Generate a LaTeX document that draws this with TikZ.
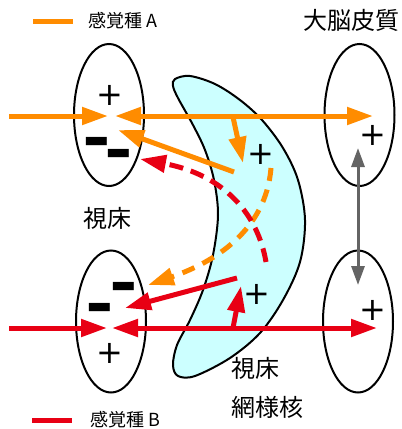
\documentclass[tikz,border=0pt]{standalone}
\usepackage{fontspec}
\newfontfamily\jp{Noto Sans CJK JP}
\newfontfamily\dv{DejaVu Sans}
\usetikzlibrary{arrows.meta,shapes.geometric}
\definecolor{orA}{RGB}{255,140,0}
\definecolor{redB}{RGB}{232,0,20}
\definecolor{cyanF}{RGB}{204,255,255}
\definecolor{grayG}{RGB}{100,100,100}
\tikzset{
  bigtip/.tip={Triangle[length=26pt,width=17pt]},
  graytip/.tip={Triangle[length=19pt,width=13pt]},
  thal/.style={draw, ellipse, line width=2pt, minimum width=70pt, minimum height=142pt, inner sep=0pt},
  oline/.style={draw=orA, line width=5pt},
  rline/.style={draw=redB, line width=5pt},
  odash/.style={oline, dash pattern=on 13pt off 9pt},
  rdash/.style={rline, dash pattern=on 14pt off 8pt},
  plussign/.style={font=\dv\fontsize{32}{32}\selectfont, inner sep=0pt},
  minussign/.style={font=\dv\bfseries\fontsize{41}{41}\selectfont, inner sep=0pt, anchor=base},
  jplabel/.style={font=\jp\fontsize{24}{24}\selectfont, inner sep=0pt},
  legend/.style={font=\jp\fontsize{18}{18}\selectfont, inner sep=0pt, anchor=west},
}
\newcommand{\mns}{\scalebox{1.3}[1.6]{\kern-2.5pt–\kern-2.5pt}}
\begin{document}
\begin{tikzpicture}[x=1pt,y=-1pt]
\useasboundingbox (0,0) rectangle (402,429);
% crescent (thalamic reticular nucleus)
\draw[fill=cyanF, line width=2pt] plot[smooth cycle, tension=0.55] coordinates {
 (175,79) (190,76) (215,84) (240,100) (262,120) (283,148) (298,180) (305,220)
 (300,262) (283,300) (260,333) (230,358) (195,376) (178,376)
 (173,365) (177,345) (190,320) (203,290) (213,255) (218,215) (214,180)
 (205,150) (193,125) (178,98) (173,86)};
% ellipses
\node[thal] (tl) at (109,115) {};
\node[thal] (bl) at (111,321.5) {};
\node[thal] (tr) at (359.5,115) {};
\node[thal] (br) at (358,321.5) {};
% coordinates
\coordinate (oin) at (9,116);
\coordinate (otip) at (108,116);
\coordinate (oL) at (115,116);
\coordinate (oR) at (373,116);
\coordinate (odS) at (233,117);
\coordinate (odE) at (243,163);
\coordinate (ofS) at (234,172);
\coordinate (ofE) at (118,130);
\coordinate (odashS) at (271,168);
\coordinate (odashE) at (148,285);
\coordinate (rdashS) at (266,262);
\coordinate (rdashE) at (140,159);
\coordinate (rin) at (9,328);
\coordinate (rtip) at (107,328);
\coordinate (rL) at (112,328);
\coordinate (rR) at (377,328);
\coordinate (ruS) at (233,328);
\coordinate (ruE) at (241,286);
\coordinate (rfS) at (237,278);
\coordinate (rfE) at (125,308);
\coordinate (gT) at (358,148);
\coordinate (gB) at (358,285);
\coordinate (lgoA) at (33,21);
\coordinate (lgoB) at (73,21);
\coordinate (lgrA) at (32,420);
\coordinate (lgrB) at (72,420);
% gray
\draw[grayG, line width=3pt, graytip-graytip] (gT) -- (gB);
% orange
\draw[oline] (lgoA) -- (lgoB);
\draw[oline, -bigtip] (oin) -- (otip);
\draw[oline, bigtip-bigtip] (oL) -- (oR);
\draw[oline, -bigtip] (odS) -- (odE);
\draw[oline, -bigtip] (ofS) -- (ofE);
\draw[odash, -bigtip] (odashS) .. controls (266,230) and (215,262) .. (odashE);
% red
\draw[rdash, -bigtip] (rdashS) .. controls (258,215) and (225,175) .. (rdashE);
\draw[rline] (lgrA) -- (lgrB);
\draw[rline, -bigtip] (rin) -- (rtip);
\draw[rline, bigtip-bigtip] (rL) -- (rR);
\draw[rline, -bigtip] (ruS) -- (ruE);
\draw[rline, -bigtip] (rfS) -- (rfE);
% signs
\node[plussign] (p1) at (110,95) {+};
\node[plussign] (p2) at (373,135) {+};
\node[plussign] (p3) at (373,310) {+};
\node[plussign] (p4) at (110,353) {+};
\node[plussign] (p5) at (261,154) {+};
\node[plussign] (p6) at (257,294) {+};
\node[minussign] (m1) at (97,159) {\mns};
\node[minussign] (m2) at (118.5,171) {\mns};
\node[minussign] (m3) at (123.5,304) {\mns};
\node[minussign] (m4) at (100,325) {\mns};
% labels
\node[legend] (la) at (88,21) {感覚種 A};
\node[legend] (lb) at (90,420) {感覚種 B};
\node[jplabel] (ctx) at (351,20) {大脳皮質};
\node[jplabel] (th) at (107,218) {視床};
\node[jplabel, anchor=west] (rt1) at (231,368) {視床};
\node[jplabel, anchor=west] (rt2) at (231,407) {網様核};
\end{tikzpicture}
\end{document}
